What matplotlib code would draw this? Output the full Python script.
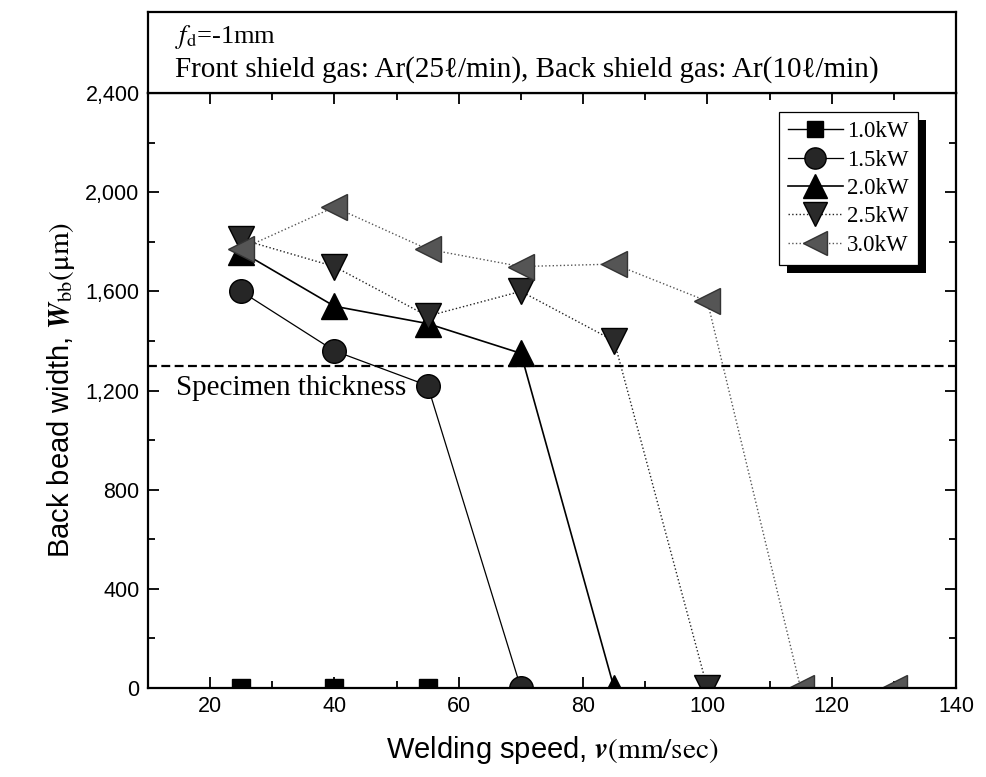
import numpy as np
import matplotlib
matplotlib.use("Agg")
from matplotlib import pyplot as plt
from matplotlib.ticker import MultipleLocator, FuncFormatter
from matplotlib.patches import Rectangle
from matplotlib.transforms import IdentityTransform

plt.rcParams['mathtext.fontset'] = 'stix'

# data
speed_10 = [25, 40, 55]
width_10 = [0, 0, 0]
speed_15 = [25, 40, 55, 70]
width_15 = [1600, 1360, 1220, 0]
speed_20 = [25, 40, 55, 70, 85]
width_20 = [1760, 1540, 1470, 1350, 0]
speed_25 = [25, 40, 55, 70, 85, 100]
width_25 = [1810, 1700, 1500, 1600, 1400, 0]
speed_30 = [25, 40, 55, 70, 85, 100, 115, 130]
width_30 = [1770, 1940, 1770, 1700, 1710, 1560, 0, 0]
thickness = 1300

serif = ['Liberation Serif', 'DejaVu Serif']
sans = ['Liberation Sans', 'DejaVu Sans']

fig = plt.figure(figsize=(9.86, 7.77), dpi=100)
ax = fig.add_axes([0.150, 0.1145, 0.8196, 0.7658])
hd = fig.add_axes([0.150, 0.8803, 0.8196, 0.1043])

ax.plot(speed_10, width_10, '-', color='black', lw=1.0, marker='s', ms=13,
        mfc='black', mec='black', label='1.0kW')
ax.plot(speed_15, width_15, '-', color='black', lw=0.9, marker='o', ms=17,
        mfc='#262626', mec='black', label='1.5kW')
ax.plot(speed_20, width_20, '-', color='black', lw=1.2, marker='^', ms=19,
        mfc='black', mec='black', label='2.0kW')
ax.plot(speed_25, width_25, ':', color='#222222', lw=1.0, marker='v', ms=19,
        mfc='#2a2a2a', mec='black', label='2.5kW')
ax.plot(speed_30, width_30, ':', color='#555555', lw=1.0, marker='<', ms=19,
        mfc='#555555', mec='#333333', label='3.0kW')

ax.axhline(thickness, color='black', lw=1.6, ls=(0, (4, 2)))
ax.text(14.5, 1262, 'Specimen thickness', family=serif, fontsize=21,
        va='top', ha='left')

ax.set_xlim(10, 140)
ax.set_ylim(0, 2400)
ax.xaxis.set_major_locator(MultipleLocator(20))
ax.xaxis.set_minor_locator(MultipleLocator(10))
ax.yaxis.set_major_locator(MultipleLocator(400))
ax.yaxis.set_minor_locator(MultipleLocator(200))
ax.yaxis.set_major_formatter(FuncFormatter(lambda v, p: f'{int(v):,}'))
ax.tick_params(which='both', direction='in', top=True, right=True, width=1.3)
ax.tick_params(which='major', length=8, labelsize=15.5, pad=6)
ax.tick_params(which='minor', length=5)
for lab in ax.get_xticklabels() + ax.get_yticklabels():
    lab.set_family(sans)
for s in ax.spines.values():
    s.set_linewidth(1.6)

ax.set_xlabel('Welding speed, $\\boldsymbol{v}$$\\mathrm{(mm/sec)}$',
              family=sans, fontsize=21, labelpad=12)
ax.set_ylabel('Back bead width, $\\boldsymbol{W}_{\\mathrm{bb}}\\mathrm{(\\mu m)}$',
              family=sans, fontsize=21, labelpad=6)

hd.set_xticks([])
hd.set_yticks([])
for s in hd.spines.values():
    s.set_linewidth(1.6)
hd.text(0.033, 0.69, '$\\mathit{f}_{\\mathrm{d}}$=-1mm', family=serif,
        fontsize=19, transform=hd.transAxes, va='center')
hd.text(0.033, 0.29, 'Front shield gas: Ar(25ℓ/min), Back shield gas: Ar(10ℓ/min)',
        family=serif, fontsize=21, transform=hd.transAxes, va='center')

leg = ax.legend(loc='upper right', bbox_to_anchor=(0.953, 0.968),
                prop={'family': serif, 'size': 16.5}, frameon=True,
                fancybox=False, edgecolor='black', framealpha=1,
                handlelength=2.4, handletextpad=0.2, labelspacing=0.32,
                borderpad=0.4, markerscale=0.9, borderaxespad=0)
leg.get_frame().set_linewidth(0.9)
leg.set_zorder(6)

fig.canvas.draw()
bb = leg.get_window_extent()
shadow = Rectangle((bb.x0 + 8, bb.y0 - 8), bb.width, bb.height,
                   transform=IdentityTransform(), facecolor='black',
                   edgecolor='none', zorder=5, clip_on=False)
ax.add_artist(shadow)

fig.savefig('out.png', dpi=100)
